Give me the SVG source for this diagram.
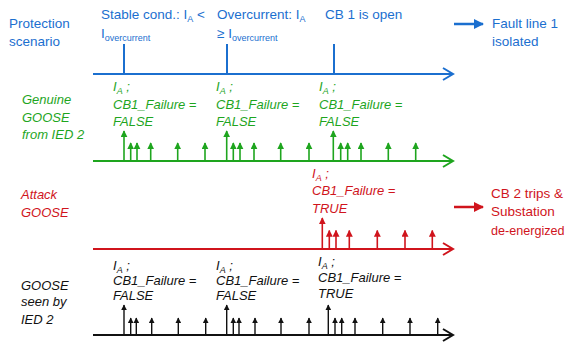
<svg xmlns="http://www.w3.org/2000/svg" width="567" height="343" viewBox="0 0 567 343">
<defs>
<style>
.t{font-family:"Liberation Sans",Arial,sans-serif;font-size:13.5px}
.i{font-family:"Liberation Sans",Arial,sans-serif;font-size:13px;font-style:italic}
.blue{fill:#1b6fcf}.green{fill:#1ea51e}.red{fill:#d0141c}.black{fill:#111}
.sub{font-size:9px}
.ax{fill:none;stroke-width:2}
</style>
<marker id="hg" viewBox="0 0 10 10" refX="9" refY="5" markerWidth="7" markerHeight="7" markerUnits="userSpaceOnUse" orient="auto"><path d="M0,0 L10,5 L0,10 z" fill="#1ea51e"/></marker>
<marker id="hr" viewBox="0 0 10 10" refX="9" refY="5" markerWidth="7" markerHeight="7" markerUnits="userSpaceOnUse" orient="auto"><path d="M0,0 L10,5 L0,10 z" fill="#d0141c"/></marker>
<marker id="hk" viewBox="0 0 10 10" refX="9" refY="5" markerWidth="6" markerHeight="6" markerUnits="userSpaceOnUse" orient="auto"><path d="M0,0 L10,5 L0,10 z" fill="#111"/></marker>
<marker id="hb" viewBox="0 0 10 10" refX="9" refY="5" markerWidth="10" markerHeight="10" markerUnits="userSpaceOnUse" orient="auto"><path d="M0,0 L10,5 L0,10 z" fill="#1b6fcf"/></marker>
<marker id="hrr" viewBox="0 0 10 10" refX="9" refY="5" markerWidth="10" markerHeight="10" markerUnits="userSpaceOnUse" orient="auto"><path d="M0,0 L10,5 L0,10 z" fill="#d0141c"/></marker>
</defs>

<!-- Blue: protection scenario -->
<g id="protection-scenario">
<text class="t blue" x="9" y="27.5">Protection</text>
<text class="t blue" x="9" y="45.5">scenario</text>
<text class="t blue" x="101" y="19">Stable cond.: I<tspan class="sub" dy="3">A</tspan><tspan dy="-3"> &lt;</tspan></text>
<text class="t blue" x="101" y="38">I<tspan class="sub" dy="3">overcurrent</tspan></text>
<text class="t blue" x="217" y="19">Overcurrent: I<tspan class="sub" dy="3">A</tspan></text>
<text class="t blue" x="217" y="38">≥ I<tspan class="sub" dy="3">overcurrent</tspan></text>
<text class="t blue" x="325" y="19">CB 1 is open</text>
<text class="t blue" x="492" y="28">Fault line 1</text>
<text class="t blue" x="492" y="45.5">isolated</text>
</g>

<g id="genuine-goose">
<text class="i green" x="22" y="104">Genuine</text>
<text class="i green" x="22" y="121.5">GOOSE</text>
<text class="i green" x="22" y="139">from IED 2</text>
<text class="i green" x="113" y="91">I<tspan class="sub" dy="3">A</tspan><tspan dy="-3"> ;</tspan></text>
<text class="i green" x="113" y="108.5">CB1_Failure =</text>
<text class="i green" x="113" y="126">FALSE</text>
<text class="i green" x="216" y="91">I<tspan class="sub" dy="3">A</tspan><tspan dy="-3"> ;</tspan></text>
<text class="i green" x="216" y="108.5">CB1_Failure =</text>
<text class="i green" x="216" y="126">FALSE</text>
<text class="i green" x="319" y="91">I<tspan class="sub" dy="3">A</tspan><tspan dy="-3"> ;</tspan></text>
<text class="i green" x="319" y="108.5">CB1_Failure =</text>
<text class="i green" x="319" y="126">FALSE</text>
</g>

<g id="attack-goose">
<text class="i red" x="21" y="199">Attack</text>
<text class="i red" x="21" y="217">GOOSE</text>
<text class="i red" x="312" y="177.5">I<tspan class="sub" dy="3">A</tspan><tspan dy="-3"> ;</tspan></text>
<text class="i red" x="312" y="195">CB1_Failure =</text>
<text class="i red" x="312" y="212.5">TRUE</text>
<text class="t red" x="491" y="197.5">CB 2 trips &amp;</text>
<text class="t red" x="491" y="216">Substation</text>
<text class="t red" x="491" y="234.5" style="font-size:12.6px">de-energized</text>
</g>

<g id="goose-seen">
<text class="i black" x="21" y="289.5">GOOSE</text>
<text class="i black" x="21" y="306">seen by</text>
<text class="i black" x="21" y="323.5">IED 2</text>
<text class="i black" x="113" y="269.5">I<tspan class="sub" dy="3">A</tspan><tspan dy="-3"> ;</tspan></text>
<text class="i black" x="113" y="285">CB1_Failure =</text>
<text class="i black" x="113" y="300">FALSE</text>
<text class="i black" x="216" y="269.5">I<tspan class="sub" dy="3">A</tspan><tspan dy="-3"> ;</tspan></text>
<text class="i black" x="216" y="285">CB1_Failure =</text>
<text class="i black" x="216" y="300">FALSE</text>
<text class="i black" x="318" y="266">I<tspan class="sub" dy="3">A</tspan><tspan dy="-3"> ;</tspan></text>
<text class="i black" x="318" y="281.5">CB1_Failure =</text>
<text class="i black" x="318" y="298">TRUE</text>
</g>

<g id="connectors">
<!-- blue axis -->
<g stroke="#1b6fcf" class="ax">
<line x1="93" y1="74" x2="452" y2="74"/>
<path d="M443,68 L453,74 L443,80"/>
<line x1="124" y1="44" x2="124" y2="74"/>
<line x1="227" y1="44" x2="227" y2="74"/>
<line x1="334" y1="44" x2="334" y2="74"/>
</g>
<line x1="454" y1="24" x2="483" y2="24" stroke="#1b6fcf" stroke-width="2.5" marker-end="url(#hb)"/>

<!-- green axis -->
<g stroke="#1ea51e" class="ax">
<line x1="93" y1="161" x2="452" y2="161"/>
<path d="M443,155 L453,161 L443,167"/>
</g>
<g stroke="#1ea51e" stroke-width="1.6" marker-end="url(#hg)">
<line x1="124" y1="161" x2="124" y2="131"/>
<line x1="130.7" y1="161" x2="130.7" y2="143"/>
<line x1="137" y1="161" x2="137" y2="143"/>
<line x1="150.7" y1="161" x2="150.7" y2="143"/>
<line x1="177.7" y1="161" x2="177.7" y2="143"/>
<line x1="205" y1="161" x2="205" y2="143"/>
<line x1="226.7" y1="161" x2="226.7" y2="131"/>
<line x1="233.3" y1="161" x2="233.3" y2="143"/>
<line x1="240" y1="161" x2="240" y2="143"/>
<line x1="254" y1="161" x2="254" y2="143"/>
<line x1="280.7" y1="161" x2="280.7" y2="143"/>
<line x1="309" y1="161" x2="309" y2="143"/>
<line x1="333.3" y1="161" x2="333.3" y2="131"/>
<line x1="340.7" y1="161" x2="340.7" y2="143"/>
<line x1="347.7" y1="161" x2="347.7" y2="143"/>
<line x1="361" y1="161" x2="361" y2="143"/>
<line x1="388.3" y1="161" x2="388.3" y2="143"/>
<line x1="415.7" y1="161" x2="415.7" y2="143"/>
</g>

<!-- red axis -->
<g stroke="#d0141c" class="ax">
<line x1="93" y1="249" x2="452" y2="249"/>
<path d="M443,243 L453,249 L443,255"/>
</g>
<g stroke="#d0141c" stroke-width="1.6" marker-end="url(#hr)">
<line x1="322.3" y1="249" x2="322.3" y2="218"/>
<line x1="329.3" y1="249" x2="329.3" y2="230.5"/>
<line x1="336" y1="249" x2="336" y2="230.5"/>
<line x1="349.3" y1="249" x2="349.3" y2="230.5"/>
<line x1="377.3" y1="249" x2="377.3" y2="230.5"/>
<line x1="405" y1="249" x2="405" y2="230.5"/>
<line x1="432.3" y1="249" x2="432.3" y2="230.5"/>
</g>
<line x1="454" y1="207" x2="483" y2="207" stroke="#d0141c" stroke-width="2.5" marker-end="url(#hrr)"/>

<!-- black axis -->
<g stroke="#111" class="ax">
<line x1="93" y1="335" x2="452" y2="335"/>
<path d="M443,329 L453,335 L443,341"/>
</g>
<g stroke="#111" stroke-width="1.4" marker-end="url(#hk)">
<line x1="124" y1="335" x2="124" y2="305"/>
<line x1="130.7" y1="335" x2="130.7" y2="318"/>
<line x1="136.3" y1="335" x2="136.3" y2="318"/>
<line x1="151.7" y1="335" x2="151.7" y2="318"/>
<line x1="178.3" y1="335" x2="178.3" y2="318"/>
<line x1="205.7" y1="335" x2="205.7" y2="318"/>
<line x1="226.7" y1="335" x2="226.7" y2="305"/>
<line x1="233.3" y1="335" x2="233.3" y2="318"/>
<line x1="239" y1="335" x2="239" y2="318"/>
<line x1="255" y1="335" x2="255" y2="318"/>
<line x1="281" y1="335" x2="281" y2="318"/>
<line x1="309" y1="335" x2="309" y2="318"/>
<line x1="328.3" y1="335" x2="328.3" y2="305"/>
<line x1="335" y1="335" x2="335" y2="318"/>
<line x1="341.7" y1="335" x2="341.7" y2="318"/>
<line x1="355" y1="335" x2="355" y2="318"/>
<line x1="382.7" y1="335" x2="382.7" y2="318"/>
<line x1="410" y1="335" x2="410" y2="318"/>
<line x1="437.7" y1="335" x2="437.7" y2="318"/>
</g>
</g>
</svg>
